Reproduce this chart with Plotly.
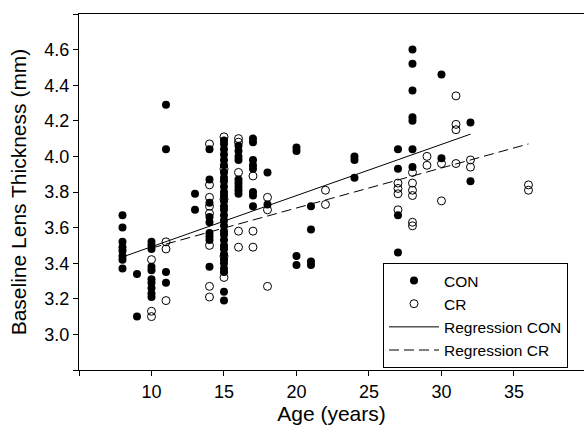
import plotly.graph_objects as go

# CON group (filled circles): ages and lens thickness (mm)
con_age = ([8]*8 + [9]*2 + [10]*10 + [11]*4 + [13]*2 + [14]*9 + [15]*30 + [16]*9 +
           [17]*8 + [18]*2 + [20]*4 + [21]*4 + [24]*3 + [27]*4 + [28]*7 + [30]*2 + [32]*2)
con_thk = ([3.67, 3.60, 3.52, 3.49, 3.47, 3.44, 3.42, 3.37] +
           [3.34, 3.10] +
           [3.52, 3.50, 3.48, 3.38, 3.36, 3.31, 3.29, 3.26, 3.23, 3.21] +
           [4.29, 4.04, 3.35, 3.29] +
           [3.79, 3.70] +
           [4.04, 3.87, 3.74, 3.66, 3.63, 3.57, 3.55, 3.53, 3.38] +
           [4.09, 4.07, 4.04, 4.01, 3.98, 3.95, 3.91, 3.88, 3.86, 3.83, 3.80, 3.78, 3.75, 3.72, 3.70,
            3.67, 3.64, 3.61, 3.58, 3.56, 3.53, 3.50, 3.48, 3.45, 3.42, 3.40, 3.37, 3.35, 3.24, 3.19] +
           [4.06, 4.03, 4.00, 3.98, 3.87, 3.85, 3.83, 3.81, 3.79] +
           [4.10, 4.08, 3.98, 3.95, 3.93, 3.80, 3.78, 3.72] +
           [3.91, 3.73] +
           [4.05, 4.03, 3.44, 3.39] +
           [3.72, 3.59, 3.41, 3.39] +
           [4.00, 3.98, 3.88] +
           [4.04, 3.93, 3.67, 3.46] +
           [4.60, 4.52, 4.37, 4.22, 4.20, 4.04, 3.94] +
           [4.46, 3.99] +
           [4.19, 3.86])

# CR group (open circles)
cr_age = ([10]*3 + [11]*3 + [14]*8 + [15]*5 + [16]*5 + [17]*3 + [18]*3 + [22]*2 +
          [27]*4 + [28]*6 + [29]*2 + [30]*2 + [31]*4 + [32]*2 + [36]*2)
cr_thk = ([3.42, 3.13, 3.10] +
          [3.52, 3.48, 3.19] +
          [4.07, 3.84, 3.77, 3.72, 3.68, 3.50, 3.27, 3.21] +
          [4.11, 3.93, 3.76, 3.44, 3.32] +
          [4.10, 4.08, 3.91, 3.58, 3.49] +
          [3.89, 3.58, 3.49] +
          [3.77, 3.70, 3.27] +
          [3.81, 3.73] +
          [3.85, 3.82, 3.79, 3.70] +
          [3.91, 3.85, 3.81, 3.78, 3.63, 3.61] +
          [4.00, 3.95] +
          [3.96, 3.75] +
          [4.34, 4.18, 4.15, 3.96] +
          [3.98, 3.94] +
          [3.84, 3.81])

# Regression lines (end points)
reg_con_age = [8, 32]
reg_con_thk = [3.435, 4.125]
reg_cr_age = [10, 36]
reg_cr_thk = [3.485, 4.07]

x_ticks = [5, 10, 15, 20, 25, 30, 35, 40]
x_tick_labels = ["", "10", "15", "20", "25", "30", "35", ""]
y_ticks = [2.8, 3.0, 3.2, 3.4, 3.6, 3.8, 4.0, 4.2, 4.4, 4.6, 4.8]
y_tick_labels = ["", "3.0", "3.2", "3.4", "3.6", "3.8", "4.0", "4.2", "4.4", "4.6", ""]

FONT = "Liberation Sans, Arial, sans-serif"

fig = go.Figure()
fig.add_trace(go.Scatter(x=con_age, y=con_thk, mode="markers", name="CON",
                         marker=dict(symbol="circle", size=8, color="black"),
                         legendrank=1))
fig.add_trace(go.Scatter(x=cr_age, y=cr_thk, mode="markers", name="CR",
                         marker=dict(symbol="circle-open", size=8, color="black",
                                     line=dict(width=1, color="black")),
                         legendrank=2))
fig.add_trace(go.Scatter(x=reg_con_age, y=reg_con_thk, mode="lines", name="Regression CON",
                         line=dict(color="black", width=1), legendrank=3))
fig.add_trace(go.Scatter(x=reg_cr_age, y=reg_cr_thk, mode="lines", name="Regression CR",
                         line=dict(color="black", width=1, dash="10px,5px"), legendrank=4))

fig.update_layout(
    width=584, height=425,
    margin=dict(l=79, r=0, t=14, b=55, autoexpand=False),
    paper_bgcolor="white", plot_bgcolor="white",
    font=dict(family=FONT, color="black", size=16),
    showlegend=True,
    legend=dict(x=0.602, y=0.3006, xanchor="left", yanchor="top",
                bordercolor="black", borderwidth=1, bgcolor="white",
                itemwidth=50,
                font=dict(size=15.5, family=FONT), tracegroupgap=0),
    xaxis=dict(range=[5, 39.83], tickmode="array", tickvals=x_ticks, ticktext=x_tick_labels,
               showgrid=False, zeroline=False, showline=True, linecolor="black", linewidth=1,
               mirror=True, ticks="outside", ticklen=5, tickcolor="black",
               tickfont=dict(size=18), automargin=False,
               title=dict(text="Age (years)", font=dict(size=21), standoff=6)),
    yaxis=dict(range=[2.8, 4.8], tickmode="array", tickvals=y_ticks, ticktext=y_tick_labels,
               showgrid=False, zeroline=False, showline=True, linecolor="black", linewidth=1,
               ticks="outside", ticklen=5, tickcolor="black",
               tickfont=dict(size=18), automargin=False,
               title=dict(text="Baseline Lens Thickness (mm)", font=dict(size=21), standoff=12)),
)

fig.write_html("out.html",
               config={"displayModeBar": False},
               post_script="document.body.style.margin='0';document.body.style.padding='0';"
                           "document.body.style.overflow='hidden';")
